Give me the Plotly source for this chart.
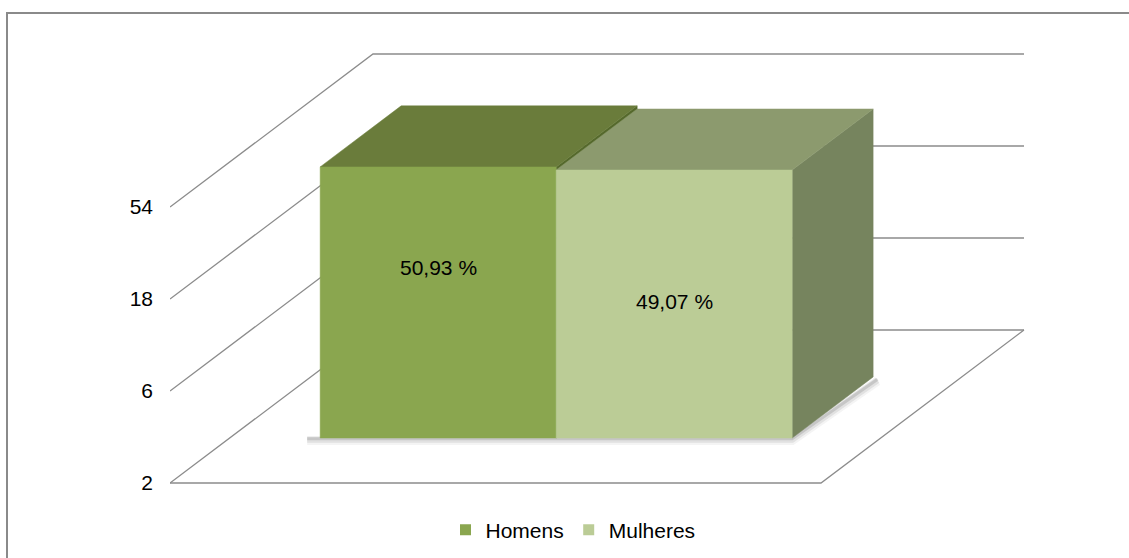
import math
import plotly.graph_objects as go

# ---- data ----
series = ["Homens", "Mulheres"]
values = [50.93, 49.07]
value_labels = ["50,93 %", "49,07 %"]
tick_vals = [2, 6, 18, 54]
tick_text = ["2", "6", "18", "54"]

# ---- style / geometry (oblique 3-D projection) ----
W, H = 1129, 558
ML = 170                     # left margin = front-left corner of the floor
PX_PER_U = 651.0             # pixels per category unit along the front edge
PX_PER_STEP = 92.0           # pixels per factor-3 step on the log axis
FLOOR_Y = 483.0              # pixel row of value 2 at the front
DEPTH_DX = 203.0 / PX_PER_U  # full depth, x offset (units)
DEPTH_K = 3 ** (153.0 / PX_PER_STEP)  # full depth, multiplicative y offset
BASE = tick_vals[0]
D0, D1 = 0.294, 0.693        # bar depth span (fraction of floor depth)
BAR_START, BAR_W = 0.139, 0.3625
LABEL_FRAC = [0.63, 0.51]

front_cols = ["#8AA64F", "#BBCC96"]
top_cols = ["#6A7C3B", "#8C9A6E"]
side_cols = ["#55692C", "#76845E"]
grid_col = "#8C8C8C"
FONT = "Liberation Sans, Arial, sans-serif"


def proj(u, v, d):
    """point at category-position u, value v, depth fraction d"""
    return u + d * DEPTH_DX, v * DEPTH_K ** d


fig = go.Figure()

# ---- walls & floor grid ----
for t in tick_vals:
    pts = [proj(0, t, 0), proj(0, t, 1), proj(1, t, 1)]
    fig.add_trace(go.Scatter(x=[p[0] for p in pts], y=[p[1] for p in pts], mode="lines",
                             line=dict(color=grid_col, width=1.3),
                             hoverinfo="skip", showlegend=False))
f = [proj(0, BASE, 0), proj(1, BASE, 0), proj(1, BASE, 1)]
fig.add_trace(go.Scatter(x=[p[0] for p in f], y=[p[1] for p in f], mode="lines",
                         line=dict(color=grid_col, width=1.3), hoverinfo="skip", showlegend=False))

# ---- soft shadow under bars ----
u_left = BAR_START
u_right = BAR_START + BAR_W * len(values)
for wdt, alpha, dv in [(9, 0.06, 0.97), (6, 0.10, 0.98), (3, 0.16, 0.99)]:
    sh = [proj(u_left - 0.02, BASE * dv, D0), proj(u_right, BASE * dv, D0),
          proj(u_right + 0.01, BASE * dv, D1 - 0.01)]
    fig.add_trace(go.Scatter(x=[p[0] for p in sh], y=[p[1] for p in sh], mode="lines",
                             line=dict(color="rgba(60,60,60,%.2f)" % alpha, width=wdt),
                             hoverinfo="skip", showlegend=False))


def poly(pts, color):
    xs = [p[0] for p in pts] + [pts[0][0]]
    ys = [p[1] for p in pts] + [pts[0][1]]
    fig.add_trace(go.Scatter(x=xs, y=ys, mode="lines", fill="toself", fillcolor=color,
                             line=dict(color=color, width=0.5), hoverinfo="skip",
                             showlegend=False))


# side and top faces
for i, v in enumerate(values):
    u0 = BAR_START + i * BAR_W
    u1 = u0 + BAR_W
    poly([proj(u1, BASE, D0), proj(u1, BASE, D1), proj(u1, v, D1), proj(u1, v, D0)], side_cols[i])
    poly([proj(u0, v, D0), proj(u1, v, D0), proj(u1, v, D1), proj(u0, v, D1)], top_cols[i])

# front faces
for i, v in enumerate(values):
    u0 = BAR_START + i * BAR_W
    u1 = u0 + BAR_W
    poly([proj(u0, BASE, D0), proj(u1, BASE, D0), proj(u1, v, D0), proj(u0, v, D0)], front_cols[i])

# value labels
for i, v in enumerate(values):
    uc = BAR_START + (i + 0.5) * BAR_W
    x, ybase = proj(uc, BASE, D0)
    y = ybase * (v / BASE) ** LABEL_FRAC[i]
    fig.add_annotation(x=x, y=math.log10(y), text=value_labels[i], showarrow=False,
                       font=dict(family=FONT, size=21, color="#000000"))

# legend entries
for i, s in enumerate(series):
    fig.add_trace(go.Scatter(x=[None], y=[None], mode="markers", name=s,
                             marker=dict(symbol="square", size=11, color=front_cols[i])))

# ---- axes ----
plot_w = W - ML
x_range = [0, plot_w / PX_PER_U]
log2, log3 = math.log10(2), math.log10(3)
y_lo = log2 + (FLOOR_Y - H) / PX_PER_STEP * log3
y_hi = log2 + (FLOOR_Y - 0) / PX_PER_STEP * log3

fig.update_layout(
    width=W, height=H,
    margin=dict(l=ML, r=0, t=0, b=0),
    paper_bgcolor="white", plot_bgcolor="white",
    font=dict(family=FONT, size=21, color="#000000"),
    xaxis=dict(range=x_range, visible=False, fixedrange=True),
    yaxis=dict(type="log", range=[y_lo, y_hi], tickvals=tick_vals, ticktext=tick_text,
               showgrid=False, zeroline=False, showline=False, ticks="",
               ticklabelstandoff=16, tickfont=dict(family=FONT, size=21, color="#000000"),
               fixedrange=True),
    showlegend=True,
    legend=dict(orientation="h", x=(573 - ML) / plot_w, xanchor="center",
                y=(H - 530) / H, yanchor="middle", bgcolor="rgba(0,0,0,0)",
                font=dict(family=FONT, size=21, color="#000000"), itemwidth=30),
    shapes=[dict(type="rect", xref="paper", yref="paper",
                 x0=(7 - ML) / plot_w, x1=1.02, y0=-0.02, y1=(H - 13) / H,
                 line=dict(color="#8A8A8A", width=2), fillcolor="rgba(0,0,0,0)", layer="below")],
)

fig.write_html("out.html", config={"displayModeBar": False},
               post_script="document.body.style.margin='0';document.body.style.overflow='hidden';")
